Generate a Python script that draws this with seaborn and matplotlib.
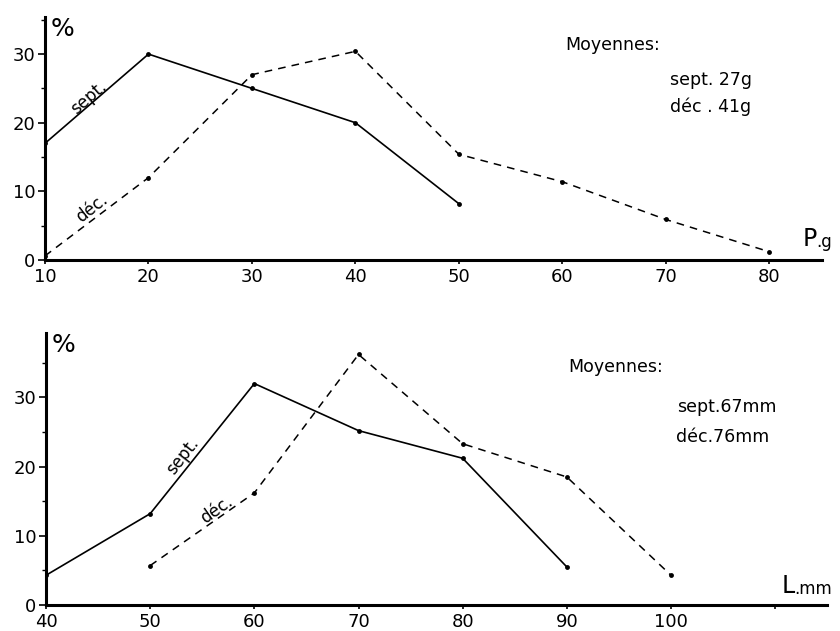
import pandas as pd
import matplotlib
matplotlib.use('Agg')
import matplotlib.pyplot as plt
import seaborn as sns

# poids (g) -- % par classe
poids_sept_x = [10, 20, 30, 40, 50]
poids_sept_y = [17, 30, 25, 20, 8.2]
poids_dec_x = [10, 20, 30, 40, 50, 60, 70, 80]
poids_dec_y = [0.6, 12, 27, 30.4, 15.4, 11.4, 5.9, 1.2]

# longueur (mm) -- % par classe
long_sept_x = [40, 50, 60, 70, 80, 90]
long_sept_y = [4.3, 13.2, 32, 25.2, 21.2, 5.5]
long_dec_x = [50, 60, 70, 80, 90, 100]
long_dec_y = [5.7, 16.2, 36.2, 23.3, 18.5, 4.3]

top_xticks = [10, 20, 30, 40, 50, 60, 70, 80]
bot_xticks = [40, 50, 60, 70, 80, 90, 100]
yticks = [0, 10, 20, 30]

sns.set_style('ticks')
plt.rcParams['font.family'] = ['DejaVu Sans']
plt.rcParams['text.color'] = 'black'
plt.rcParams['xtick.color'] = 'black'
plt.rcParams['ytick.color'] = 'black'

fig = plt.figure(figsize=(8.4, 6.31), dpi=100)
fig.set_facecolor('white')
ax1 = fig.add_axes([0.0536, 0.588, 0.925, 0.385])
ax2 = fig.add_axes([0.0548, 0.0412, 0.93, 0.431])


def draw(ax, sx, sy, dx, dy):
    sept = pd.DataFrame({'x': sx, 'y': sy})
    dec = pd.DataFrame({'x': dx, 'y': dy})
    sns.lineplot(data=sept, x='x', y='y', color='black', lw=1.2, marker='o',
                 markersize=3.5, markeredgewidth=0, sort=False, estimator=None, ax=ax)
    sns.lineplot(data=dec, x='x', y='y', color='black', lw=1.1, marker='o',
                 markersize=3.5, markeredgewidth=0, dashes=(5, 4), sort=False,
                 estimator=None, ax=ax)
    ax.set_xlabel('')
    ax.set_ylabel('')
    ax.set_facecolor('white')
    for s in ['top', 'right']:
        ax.spines[s].set_visible(False)
    for s in ['left', 'bottom']:
        ax.spines[s].set_linewidth(2.2)
        ax.spines[s].set_color('black')
    ax.set_yticks(yticks)
    ax.set_yticks([5, 15, 25, 35], minor=True)
    ax.tick_params(axis='y', which='major', length=5, width=1.2, labelsize=13, pad=2)
    ax.tick_params(axis='y', which='minor', length=3, width=1)
    ax.tick_params(axis='x', which='major', length=3, width=1.2, labelsize=13, pad=3)
    ax.text(0.007, 1.0, '%', transform=ax.transAxes, fontsize=18, va='top', ha='left')


draw(ax1, poids_sept_x, poids_sept_y, poids_dec_x, poids_dec_y)
ax1.set_xlim(10, 85.1)
ax1.set_ylim(0, 35.4)
ax1.set_xticks(top_xticks)
ax1.text(14.2, 23.6, 'sept.', fontsize=12, rotation=41, ha='center', va='center')
ax1.text(14.5, 7.6, 'déc.', fontsize=12, rotation=38, ha='center', va='center')
ax1.text(0.975, 0.035, 'P', transform=ax1.transAxes, fontsize=17, ha='left', va='bottom')
ax1.text(0.993, 0.035, '.g', transform=ax1.transAxes, fontsize=12, ha='left', va='bottom')
ax1.text(0.669, 0.885, 'Moyennes:', transform=ax1.transAxes, fontsize=12.5, va='center')
ax1.text(0.804, 0.741, 'sept. 27g', transform=ax1.transAxes, fontsize=12.5, va='center')
ax1.text(0.804, 0.63, 'déc . 41g', transform=ax1.transAxes, fontsize=12.5, va='center')

draw(ax2, long_sept_x, long_sept_y, long_dec_x, long_dec_y)
ax2.set_xlim(40, 115)
ax2.set_ylim(0, 39.3)
ax2.set_xticks(bot_xticks + [110])
ax2.set_xticklabels([str(v) for v in bot_xticks] + [''])
ax2.text(53.1, 21.5, 'sept.', fontsize=12, rotation=52, ha='center', va='center')
ax2.text(56.4, 13.7, 'déc.', fontsize=12, rotation=35, ha='center', va='center')
ax2.text(0.941, 0.025, 'L', transform=ax2.transAxes, fontsize=17, ha='left', va='bottom')
ax2.text(0.958, 0.025, '.mm', transform=ax2.transAxes, fontsize=12, ha='left', va='bottom')
ax2.text(0.668, 0.875, 'Moyennes:', transform=ax2.transAxes, fontsize=12.5, va='center')
ax2.text(0.808, 0.728, 'sept.67mm', transform=ax2.transAxes, fontsize=12.5, va='center')
ax2.text(0.807, 0.618, 'déc.76mm', transform=ax2.transAxes, fontsize=12.5, va='center')

fig.savefig('out.png', dpi=100, facecolor='white')
